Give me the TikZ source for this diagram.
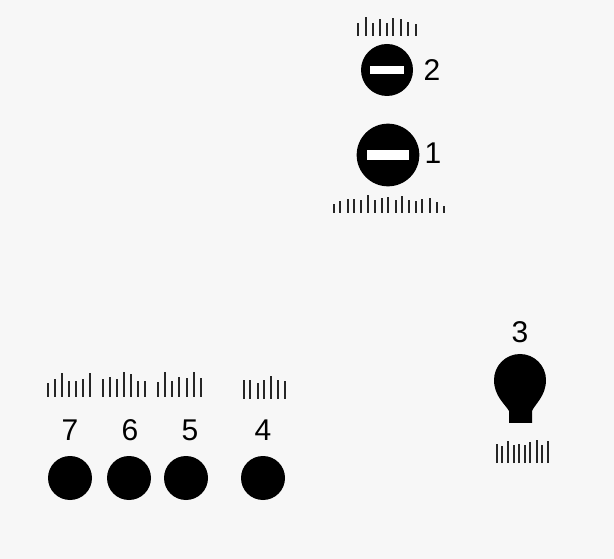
\documentclass[tikz,border=0pt]{standalone}
\usepackage{fontspec}
\setmainfont{Liberation Sans}
\usetikzlibrary{positioning}

\begin{document}
\begin{tikzpicture}[x=0.75pt, y=-0.75pt,
    dot/.style={circle, fill=black, inner sep=0pt, minimum size=33pt},
    bar/.style={rectangle, fill=white, inner sep=0pt},
    num/.style={font=\fontsize{22.5}{22.5}\selectfont, inner sep=0pt},
    tick/.style={line width=1.9pt, black!85}]
\useasboundingbox [fill=gray!6] (0,0) rectangle (614,559);

% Upper pair with bars
\node [dot, minimum size=39pt] (c2) at (387,70) {};
\node [bar, minimum width=25pt, minimum height=6pt] (b2) at (c2) {};
\node [num] (n2) at (432,70) {2};
\node [dot, minimum size=47pt] (c1) at (388,155) {};
\node [bar, minimum width=32pt, minimum height=7.5pt] (b1) at (c1) {};
\node [num] (n1) at (433,153) {1};

\foreach \x/\h in {358/13,366/19,373/13,380/17,387/13,393/18,401/17,408/14,416/12}
    \draw [tick] (\x,36) -- ++(0,-\h);
\foreach \x/\h in {334/9,340/12,348/14,354/14,361/13,368/18,375/13,382/15,388/16,
                   396/13,402/17,409/13,416/12,422/14,430/15,437/11,444/7}
    \draw [tick] (\x,213) -- ++(0,-\h);

% Row of four dots
\node [dot] (d7) at (70,478) {};
\node [dot] (d6) at (129,478) {};
\node [dot] (d5) at (186,478) {};
\node [dot] (d4) at (263,478) {};
\node [num] (n7) at (70,430) {7};
\node [num] (n6) at (130,430) {6};
\node [num] (n5) at (190,430) {5};
\node [num] (n4) at (263,430) {4};

\foreach \x/\h in {48/14,55/18,62/24,69/16,76/16,83/18,90/24,
                   103/18,110/20,117/18,124/25,131/23,138/16,145/16,
                   158/15,165/25,172/16,179/20,187/19,194/25,201/19}
    \draw [tick] (\x,397) -- ++(0,-\h);
\foreach \x/\h in {244/19,250/19,258/16,264/19,271/23,278/19,285/18}
    \draw [tick] (\x,399) -- ++(0,-\h);

% Bulb
\node [num] (n3) at (520,332) {3};
\fill (509,423) -- (509,411) .. controls (505,404) and (494,396) .. (494,380)
    arc [start angle=180, end angle=360, radius=26]
    .. controls (546,396) and (535,404) .. (532,411) -- (532,423) -- cycle;
\foreach \x/\h in {497/19,502/17,508/22,514/18,519/19,525/18,530/21,537/23,542/18,548/22}
    \draw [tick] (\x,463) -- ++(0,-\h);
\end{tikzpicture}
\end{document}
